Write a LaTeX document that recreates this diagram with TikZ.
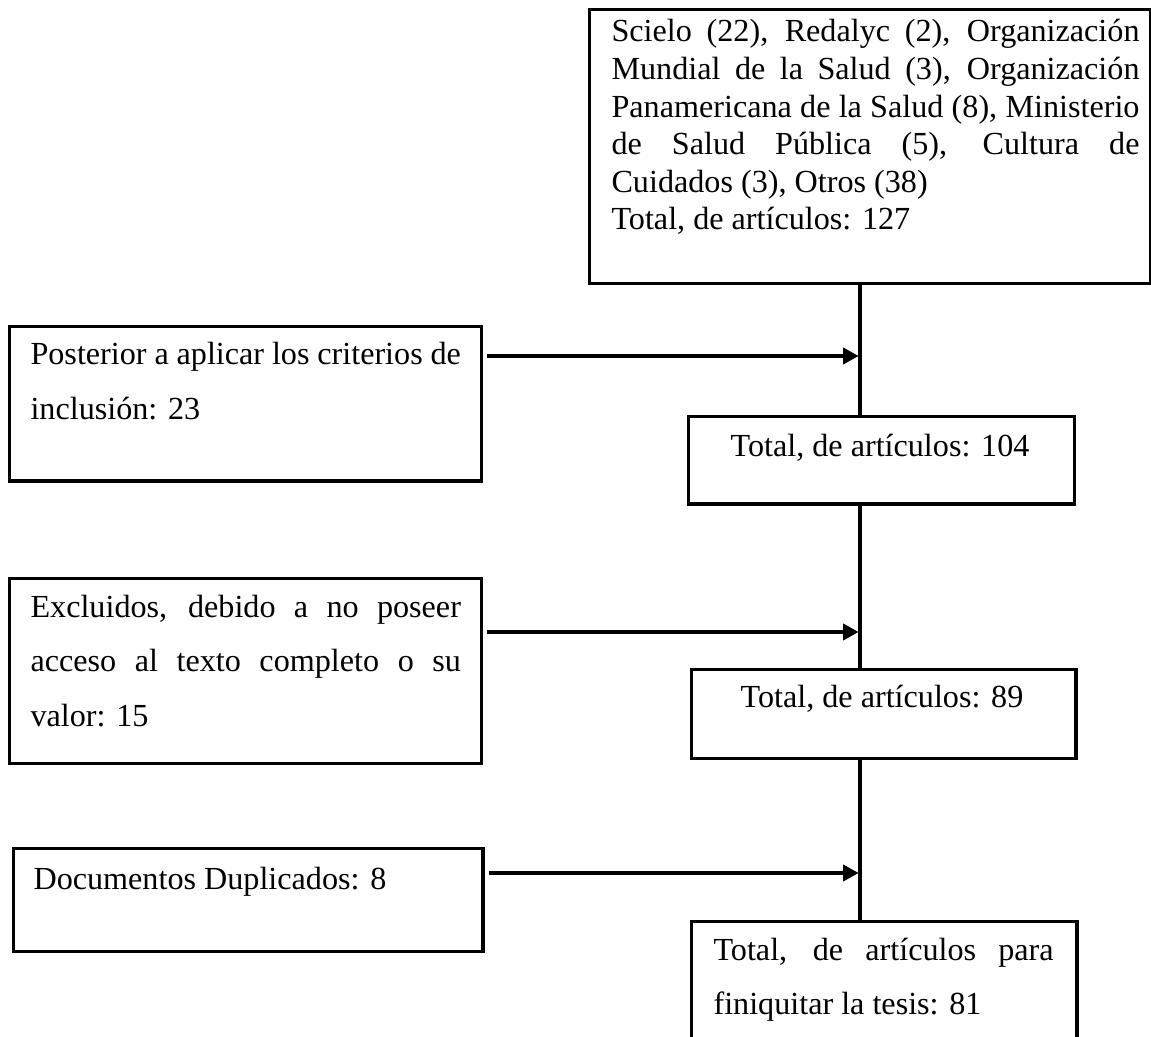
\documentclass[tikz,border=0pt]{standalone}
\usepackage{fontspec}
\setmainfont{Liberation Serif}
\usetikzlibrary{arrows.meta}
\newcommand\singlesp{\fontsize{12pt}{14pt}\selectfont}
\newcommand\onehalfsp{\fontsize{12pt}{20.5pt}\selectfont}
\begin{document}
\begin{tikzpicture}[x=0.37313pt,y=-0.37313pt,
  box/.style={draw,line width=1.3pt,inner sep=0pt,anchor=north west},
  txt/.style={inner sep=0pt,font=\singlesp},
  arr/.style={line width=1.3pt,-{Triangle[length=5.8pt,width=6pt]},shorten >=0.5pt},
  vline/.style={line width=1.3pt}]
\clip (0,0) rectangle (1151,1037);
\fill[white] (0,0) rectangle (1151,1037);
% boxes
\node[box,minimum width=209.3pt,minimum height=102.2pt] (b0) at (588,8) {};
\node[box,minimum width=176.1pt,minimum height=57.5pt] (bpost) at (8,325) {};
\node[box,minimum width=144.0pt,minimum height=32.5pt] (b104) at (687,415) {};
\node[box,minimum width=176.1pt,minimum height=69.0pt] (bexc) at (8,577) {};
\node[box,minimum width=143.3pt,minimum height=33.2pt] (b89) at (690,668) {};
\node[box,minimum width=175.0pt,minimum height=38.4pt] (bdup) at (12,847) {};
\node[box,minimum width=143.7pt,minimum height=50pt] (bfin) at (690,920) {};
% texts
\node[txt,anchor=base west] (t0) at (611,42) {\parbox[t]{197pt}{\singlesp Scielo (22), Redalyc (2), Organización\linebreak Mundial de la Salud (3), Organización\linebreak Panamericana de la Salud (8), Ministerio\linebreak de Salud Pública (5), Cultura de\linebreak Cuidados (3), Otros (38)\par Total, de artículos: 127}};
\node[txt,anchor=base west] (tpost) at (30,365) {\parbox[t]{160.6pt}{\onehalfsp Posterior a aplicar los criterios de\linebreak inclusión: 23}};
\node[txt,anchor=base] (t104) at (880,457) {Total, de artículos: 104};
\node[txt,anchor=base west] (texc) at (30,617) {\parbox[t]{160.6pt}{\onehalfsp Excluidos, debido a no poseer\linebreak acceso al texto completo o su\linebreak valor: 15}};
\node[txt,anchor=base] (t89) at (882,707) {Total, de artículos: 89};
\node[txt,anchor=base west] (tdup) at (33,889) {Documentos Duplicados: 8};
\node[txt,anchor=base west] (tfin) at (713,960) {\parbox[t]{126.9pt}{\onehalfsp Total, de artículos para\linebreak finiquitar la tesis: 81}};
% junctions on the vertical line
\coordinate (j1) at (860,356);
\coordinate (j2) at (860,632);
\coordinate (j3) at (860,873);
\draw[vline] (b0.south -| j1) -- (b104.north -| j1);
\draw[vline] (b104.south -| j1) -- (b89.north -| j1);
\draw[vline] (b89.south -| j1) -- (bfin.north -| j1);
% arrows
\coordinate (s1) at ([xshift=1.5pt]bpost.east);
\coordinate (s2) at ([xshift=1.5pt]bexc.east);
\coordinate (s3) at ([xshift=1.5pt]bdup.east);
\draw[arr] (s1 |- j1) -- (j1);
\draw[arr] (s2 |- j2) -- (j2);
\draw[arr] (s3 |- j3) -- (j3);
\end{tikzpicture}
\end{document}
